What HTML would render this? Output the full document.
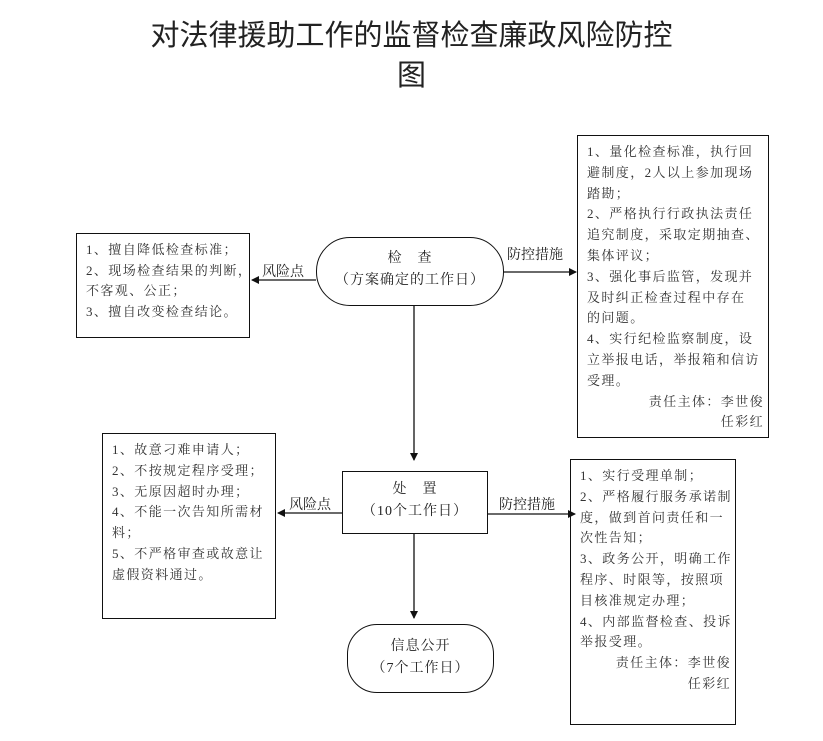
<!DOCTYPE html>
<html><head><meta charset="utf-8"><style>
body{margin:0;width:823px;height:741px;background:#fff;position:relative;overflow:hidden;font-family:"Liberation Serif","Noto Serif CJK SC","Noto Sans CJK SC",serif;color:#222}
.a{position:absolute}
.box{position:absolute;border:1.5px solid #111;box-sizing:border-box;font-size:13px;line-height:20.8px;letter-spacing:1.4px;padding:6px 4px 0 9px;color:#333;white-space:nowrap}
.r{text-align:right}
.t{position:absolute;font-family:"Liberation Sans","Noto Sans CJK SC",sans-serif;font-size:29px;text-align:center;width:823px;left:0}
.lbl{position:absolute;font-size:14px;color:#222}
.node{position:absolute;border:1.5px solid #111;box-sizing:border-box;text-align:center;font-size:14px;line-height:22px;letter-spacing:1px}
</style></head><body>
<div class="t" style="top:12px;left:0">对法律援助工作的监督检查廉政风险防控</div>
<div class="t" style="top:52px">图</div>

<div class="box" style="left:76px;top:233px;width:174px;height:105px;line-height:20.5px">1、擅自降低检查标准；<br>2、现场检查结果的判断，<br>不客观、公正；<br>3、擅自改变检查结论。</div>

<div class="node" style="left:316px;top:237px;width:188px;height:69px;border-radius:34px;padding-top:10px">检　查<br>（方案确定的工作日）</div>

<div class="box" style="left:577px;top:135px;width:192px;height:303px">1、量化检查标准，执行回<br>避制度，2人以上参加现场<br>踏勘；<br>2、严格执行行政执法责任<br>追究制度，采取定期抽查、<br>集体评议；<br>3、强化事后监管，发现并<br>及时纠正检查过程中存在<br>的问题。<br>4、实行纪检监察制度，设<br>立举报电话，举报箱和信访<br>受理。<div class="r">责任主体：李世俊</div><div class="r">任彩红</div></div>

<div class="lbl" style="left:262px;top:261px">风险点</div>
<div class="lbl" style="left:507px;top:244px">防控措施</div>

<svg class="a" style="left:0;top:0" width="823" height="741">
<defs><marker id="m" markerWidth="8" markerHeight="8" refX="7" refY="4" orient="auto" markerUnits="userSpaceOnUse"><path d="M0,0 L8,4 L0,8z" fill="#111"/></marker></defs>
<g stroke="#111" stroke-width="1.3" fill="none">
<line x1="316" y1="280" x2="252" y2="280" marker-end="url(#m)"/>
<line x1="504" y1="272" x2="576" y2="272" marker-end="url(#m)"/>
<line x1="414" y1="306" x2="414" y2="460" marker-end="url(#m)"/>
<line x1="342" y1="513" x2="278" y2="513" marker-end="url(#m)"/>
<line x1="488" y1="514" x2="575" y2="514" marker-end="url(#m)"/>
<line x1="414" y1="534" x2="414" y2="618" marker-end="url(#m)"/>
</g></svg>

<div class="box" style="left:102px;top:433px;width:174px;height:186px">1、故意刁难申请人；<br>2、不按规定程序受理；<br>3、无原因超时办理；<br>4、不能一次告知所需材<br>料；<br>5、不严格审查或故意让<br>虚假资料通过。</div>

<div class="node" style="left:342px;top:471px;width:146px;height:63px;padding-top:7px">处　置<br>（10个工作日）</div>

<div class="lbl" style="left:289px;top:494px">风险点</div>
<div class="lbl" style="left:499px;top:494px">防控措施</div>

<div class="box" style="left:570px;top:459px;width:166px;height:266px">1、实行受理单制；<br>2、严格履行服务承诺制<br>度，做到首问责任和一<br>次性告知；<br>3、政务公开，明确工作<br>程序、时限等，按照项<br>目核准规定办理；<br>4、内部监督检查、投诉<br>举报受理。<div class="r">责任主体：李世俊</div><div class="r">任彩红</div></div>

<div class="node" style="left:347px;top:624px;width:147px;height:69px;border-radius:30px;padding-top:11px">信息公开<br>（7个工作日）</div>
</body></html>
